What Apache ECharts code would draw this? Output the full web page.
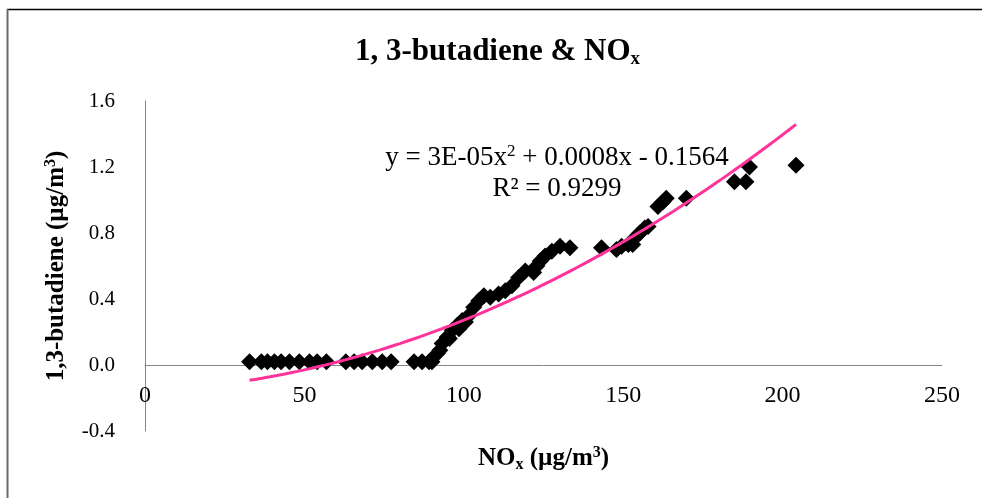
<!DOCTYPE html>
<html>
<head>
<meta charset="utf-8">
<title>1, 3-butadiene & NOx</title>
<script src="https://cdn.jsdelivr.net/npm/echarts@6/dist/echarts.min.js"></script>
<style>
  html, body { margin: 0; padding: 0; background: #fff; }
  #chart { width: 982px; height: 498px; }
</style>
</head>
<body>
<div id="chart"></div>
<script>
// NOx concentration (µg/m³) for each sample
const noxValues = [
  32.8, 36.5, 38.4, 40.6, 42.7, 45.3, 48.4, 51.6, 54.0, 56.9,
  63.0, 65.6, 68.1, 71.3, 74.4, 77.2, 84.4, 86.9, 89.1, 90.0,
  91.7, 92.5, 93.2, 94.8, 95.5, 96.4, 97.9, 98.5, 99.5, 100.5,
  101.6, 103.1, 104.7, 106.3, 108.3, 110.9, 113.0, 115.1, 117.2, 119.3,
  121.9, 122.9, 124.0, 125.5, 127.6, 130.2, 133.3,
  143.2, 147.9, 149.5, 151.6, 153.0, 154.2, 155.2, 156.8, 157.8,
  160.9, 162.5, 163.5, 169.8, 184.9, 188.5, 189.6, 204.2
];
// matching 1,3-butadiene concentration (µg/m³)
const butadieneValues = [
  0.02, 0.02, 0.02, 0.02, 0.02, 0.02, 0.02, 0.02, 0.02, 0.02,
  0.02, 0.02, 0.02, 0.02, 0.02, 0.02, 0.02, 0.02, 0.02, 0.02,
  0.07, 0.09, 0.13, 0.17, 0.16, 0.21, 0.24, 0.22, 0.27, 0.26,
  0.30, 0.35, 0.39, 0.42, 0.41, 0.43, 0.45, 0.48, 0.53, 0.57,
  0.56, 0.60, 0.63, 0.66, 0.69, 0.72, 0.71,
  0.71, 0.70, 0.72, 0.73, 0.73, 0.78, 0.80, 0.83, 0.84,
  0.96, 0.99, 1.01, 1.01, 1.11, 1.11, 1.20, 1.21
];
// polynomial trend (order 2): [x², x, constant]
const trendCoefficients = [3.48e-5, 0.0008, -0.1564];
const trendRSquared = '0.9299';
const xTicks = [0, 50, 100, 150, 200, 250];
const yTicks = [-0.4, 0.0, 0.4, 0.8, 1.2, 1.6];

const FONT = '"Liberation Serif", "Times New Roman", serif';

const points = noxValues.map((x, i) => [x, butadieneValues[i]]);

// sample the quadratic trend across the observed NOx range
const xMin = Math.min(...noxValues);
const xMax = Math.max(...noxValues);
const trend = [];
const steps = 80;
for (let i = 0; i <= steps; i++) {
  const x = xMin + (xMax - xMin) * i / steps;
  const [a, b, c] = trendCoefficients;
  trend.push([x, a * x * x + b * x + c]);
}

// plot area
const GRID = { left: 145, right: 40, top: 101, bottom: 67 };
const PLOT_H = 498 - GRID.top - GRID.bottom;
// the x axis crosses the y axis at 0: lift it from the bottom edge to that level
const yMin = yTicks[0], yMax = yTicks[yTicks.length - 1];
const xAxisLift = -PLOT_H * (0 - yMin) / (yMax - yMin);

const chart = echarts.init(document.getElementById('chart'), null, { renderer: 'canvas' });

chart.setOption({
  backgroundColor: '#ffffff',
  animation: false,
  title: {
    text: '1, 3-butadiene & NO{sub|x}',
    left: 350,
    top: 30,
    textStyle: {
      fontFamily: FONT, fontSize: 31, fontWeight: 'bold', color: '#000',
      lineHeight: 34,
      rich: {
        sub: { fontFamily: FONT, fontSize: 19, fontWeight: 'bold', color: '#000',
               verticalAlign: 'bottom', lineHeight: 10 }
      }
    }
  },
  grid: Object.assign({ containLabel: false, outerBoundsMode: 'none' }, GRID),
  xAxis: {
    type: 'value',
    min: xTicks[0], max: xTicks[xTicks.length - 1], interval: 50,
    offset: xAxisLift,
    axisLine: { onZero: false, lineStyle: { color: '#868686', width: 1 } },
    axisTick: { show: false },
    splitLine: { show: false },
    axisLabel: { fontFamily: FONT, fontSize: 24, color: '#000', margin: 19 },
    name: 'NO{sub|x} (µg/m{sup|3})',
    nameLocation: 'middle',
    nameGap: 80,
    nameTextStyle: {
      fontFamily: FONT, fontSize: 25, fontWeight: 'bold', color: '#000', lineHeight: 28,
      rich: {
        sub: { fontFamily: FONT, fontSize: 16, fontWeight: 'bold', color: '#000', verticalAlign: 'bottom', lineHeight: 10 },
        sup: { fontFamily: FONT, fontSize: 16, fontWeight: 'bold', color: '#000', verticalAlign: 'top', lineHeight: 14 }
      }
    }
  },
  yAxis: {
    type: 'value',
    min: yMin, max: yMax, interval: 0.4,
    axisLine: { show: true, onZero: false, lineStyle: { color: '#868686', width: 1 } },
    axisTick: { show: false },
    splitLine: { show: false },
    axisLabel: {
      fontFamily: FONT, fontSize: 21, color: '#000', margin: 30,
      formatter: v => v.toFixed(1)
    },
    name: '1,3-butadiene (µg/m{sup|3})',
    nameLocation: 'middle',
    nameGap: 68,
    nameTextStyle: {
      fontFamily: FONT, fontSize: 25, fontWeight: 'bold', color: '#000', lineHeight: 28,
      rich: {
        sup: { fontFamily: FONT, fontSize: 16, fontWeight: 'bold', color: '#000', verticalAlign: 'top', lineHeight: 14 }
      }
    }
  },
  series: [
    {
      name: '1,3-butadiene',
      type: 'scatter',
      data: points,
      symbol: 'diamond',
      symbolSize: 17,
      itemStyle: { color: '#000000', opacity: 1 },
      z: 2
    },
    {
      name: 'Poly. trend',
      type: 'line',
      data: trend,
      showSymbol: false,
      smooth: false,
      lineStyle: { color: '#FF3399', width: 3 },
      z: 3
    }
  ],
  graphic: [
    // chart-area frame
    { type: 'line', shape: { x1: 7, y1: 9.5, x2: 982, y2: 9.5 }, style: { stroke: '#000', lineWidth: 1.5 } },
    { type: 'line', shape: { x1: 7.5, y1: 9, x2: 7.5, y2: 498 }, style: { stroke: '#6b6b6b', lineWidth: 2 } },
    // trendline equation and R²
    {
      type: 'text', x: 557, y: 158,
      style: {
        text: 'y = 3E-05x{sup|2} + 0.0008x - 0.1564',
        font: '27px ' + FONT, fill: '#000', align: 'center', verticalAlign: 'middle',
        lineHeight: 30,
        rich: { sup: { fontFamily: FONT, fontSize: 17, fill: '#000', verticalAlign: 'top', lineHeight: 16 } }
      }
    },
    {
      type: 'text', x: 557, y: 189,
      style: {
        text: 'R² = ' + trendRSquared,
        font: '27px ' + FONT, fill: '#000', align: 'center', verticalAlign: 'middle'
      }
    }
  ]
});
</script>
</body>
</html>
